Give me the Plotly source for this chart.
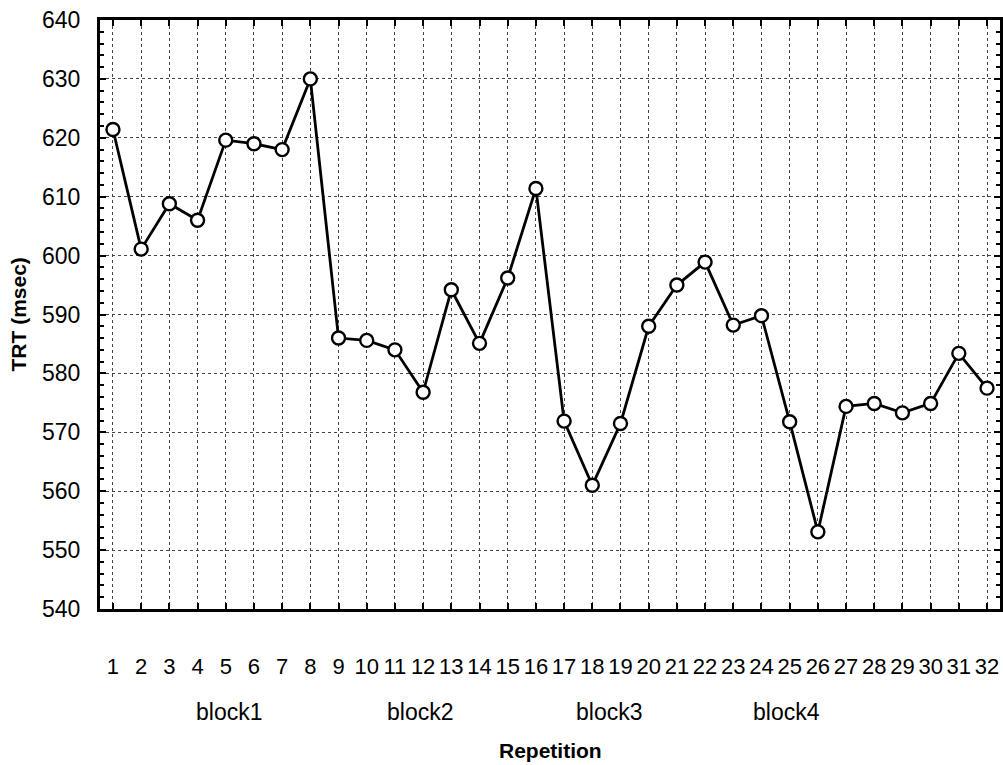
import plotly.graph_objects as go

# Mean TRT per repetition (32 repetitions, 4 blocks of 8)
repetition = list(range(1, 33))
trt_msec = [621.4, 601.1, 608.8, 606.0, 619.6, 619.0, 618.0, 630.0,
            586.0, 585.6, 584.0, 576.8, 594.2, 585.1, 596.2, 611.4,
            571.9, 561.0, 571.5, 588.0, 595.0, 598.9, 588.2, 589.8,
            571.8, 553.1, 574.4, 574.9, 573.3, 574.9, 583.4, 577.5]

block_labels = ["block1", "block2", "block3", "block4"]
block_centers = [5.1, 11.9, 18.6, 24.9]

y_ticks = list(range(540, 641, 10))

FONT = "Liberation Sans Narrow, Arial Narrow, Liberation Sans, Arial, sans-serif"

fig = go.Figure()
fig.add_trace(go.Scatter(
    x=repetition, y=trt_msec, mode="lines+markers",
    line=dict(color="black", width=2.8),
    marker=dict(symbol="circle", size=13, color="white",
                line=dict(color="black", width=2.4)),
    showlegend=False,
))

for label, cx in zip(block_labels, block_centers):
    fig.add_annotation(x=cx, xref="x", y=0, yref="paper", yanchor="middle",
                       yshift=-103, text=label, showarrow=False,
                       font=dict(family=FONT, size=23, color="black"))

fig.add_annotation(x=16.5, xref="x", y=0, yref="paper", yanchor="middle",
                   yshift=-141, text="<b>Repetition</b>", showarrow=False,
                   font=dict(family=FONT, size=21, color="black"))
fig.add_annotation(x=0, xref="paper", xshift=-82, xanchor="center",
                   y=0.5, yref="paper", yanchor="middle",
                   text="<b>TRT (msec)</b>", textangle=-90, showarrow=False,
                   font=dict(family=FONT, size=21, color="black"))

fig.update_xaxes(
    range=[0.54, 32.46], tickmode="array", tickvals=repetition,
    ticktext=[str(r) for r in repetition], tickangle=0,
    ticks="inside", ticklen=6, tickwidth=2, tickcolor="black",
    ticklabelstandoff=36,
    showline=True, linewidth=3, linecolor="black", mirror="allticks",
    showgrid=True, gridcolor="#444", gridwidth=1, griddash="dot",
    zeroline=False,
    tickfont=dict(family=FONT, size=22, color="black"),
)
fig.update_yaxes(
    range=[540, 640], tickmode="array", tickvals=y_ticks,
    ticks="inside", ticklen=6, tickwidth=2, tickcolor="black",
    ticklabelstandoff=12,
    minor=dict(dtick=2, ticks="inside", ticklen=4, tickwidth=2,
               tickcolor="black", showgrid=False),
    showline=True, linewidth=3, linecolor="black", mirror="allticks",
    showgrid=True, gridcolor="#444", gridwidth=1, griddash="dot",
    zeroline=False,
    tickfont=dict(family=FONT, size=23, color="black"),
)

fig.update_layout(
    width=1003, height=765,
    margin=dict(l=100, r=0, t=20, b=156),
    paper_bgcolor="white", plot_bgcolor="white",
    font=dict(family=FONT, color="black"),
)

fig.write_html("out.html")
